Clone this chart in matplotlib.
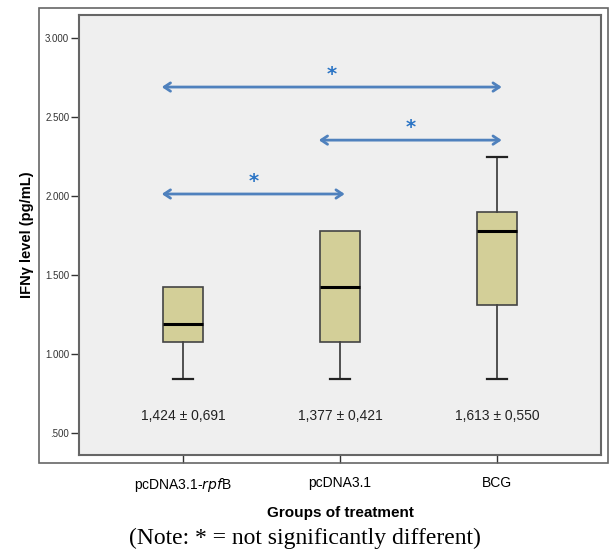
import matplotlib.pyplot as plt
from matplotlib.patches import Rectangle

plt.rcParams['font.family'] = ['Liberation Sans', 'DejaVu Sans']

# data
groups = ['pcDNA3.1-$\\it{rpf}$B', 'pcDNA3.1', 'BCG']
whis_low = [0.840, 0.840, 0.840]
q1 = [1.074, 1.074, 1.310]
medians = [1.192, 1.426, 1.780]
q3 = [1.424, 1.778, 1.900]
whis_high = [1.424, 1.778, 2.250]
mean_sd = ['1,424 ± 0,691', '1,377 ± 0,421', '1,613 ± 0,550']

y_ticks = [0.5, 1.0, 1.5, 2.0, 2.5, 3.0]
y_tick_labels = ['.500', '1.000', '1.500', '2.000', '2.500', '3.000']

# comparisons: (from group, to group, height)
pairs = [(1, 3, 2.69), (2, 3, 2.354), (1, 2, 2.013)]

fig = plt.figure(figsize=(6.09, 5.53), dpi=100)
ax = fig.add_axes([79 / 609, 98 / 553, 522 / 609, 440 / 553])
ax.set_facecolor('#efefef')

# outer frame like the SPSS output
fig.patches.append(Rectangle((39 / 609, 90 / 553), 569 / 609, 455 / 553,
                             transform=fig.transFigure, fill=False,
                             edgecolor='#666666', lw=1.2, zorder=0))

stats = []
for i in range(3):
    stats.append({'whislo': whis_low[i], 'q1': q1[i], 'med': medians[i],
                  'q3': q3[i], 'whishi': whis_high[i], 'fliers': []})

bp = ax.bxp(stats, positions=[1, 2, 3], widths=0.255, patch_artist=True,
            showfliers=False,
            boxprops=dict(facecolor='#d3cf98', edgecolor='#444444', lw=1.2),
            medianprops=dict(color='black', lw=2.2),
            whiskerprops=dict(color='#444444', lw=1.3),
            capprops=dict(color='#222222', lw=1.6),
            capwidths=0.13)
# no upper cap where the whisker is just the box edge
for i in range(3):
    if whis_high[i] <= q3[i]:
        bp['caps'][2 * i + 1].set_visible(False)

for i, txt in enumerate(mean_sd):
    ax.text(i + 1, 0.61, txt, ha='center', va='center', fontsize=10, color='#222222')

for a, b, h in pairs:
    ax.annotate('', xy=(a - 0.135, h), xytext=(b + 0.03, h),
                arrowprops=dict(arrowstyle='<->,head_length=0.45,head_width=0.3',
                                color='#4f81bd', lw=2, shrinkA=0, shrinkB=0))
    ax.text((a - 0.135 + b + 0.03) / 2, h + 0.08, '*', ha='center', va='center',
            fontsize=14, fontweight='bold', color='#2a74c5',
            family=['DejaVu Sans'])

ax.set_xlim(0.338, 3.662)
ax.set_ylim(0.361, 3.146)
ax.set_yticks(y_ticks)
ax.set_yticklabels(y_tick_labels, fontsize=7, color='#333333')
ax.set_xticks([1, 2, 3])
ax.set_xticklabels(groups, fontsize=10)
ax.tick_params(axis='y', length=6, width=1, color='#333333', pad=1)
ax.tick_params(axis='x', length=6, width=1, color='#333333', pad=9)
for s in ax.spines.values():
    s.set_color('#666666')
    s.set_linewidth(1.5)

ax.set_ylabel('IFNγ level (pg/mL)', fontsize=10.5, fontweight='bold', labelpad=8)
ax.set_xlabel('Groups of treatment', fontsize=11, fontweight='bold', labelpad=9)

fig.text(0.5, 15 / 553, '(Note: * = not significantly different)', ha='center',
         va='center', fontsize=17, family=['Liberation Serif', 'DejaVu Serif'])

fig.savefig('out.png', dpi=100, facecolor='white')
